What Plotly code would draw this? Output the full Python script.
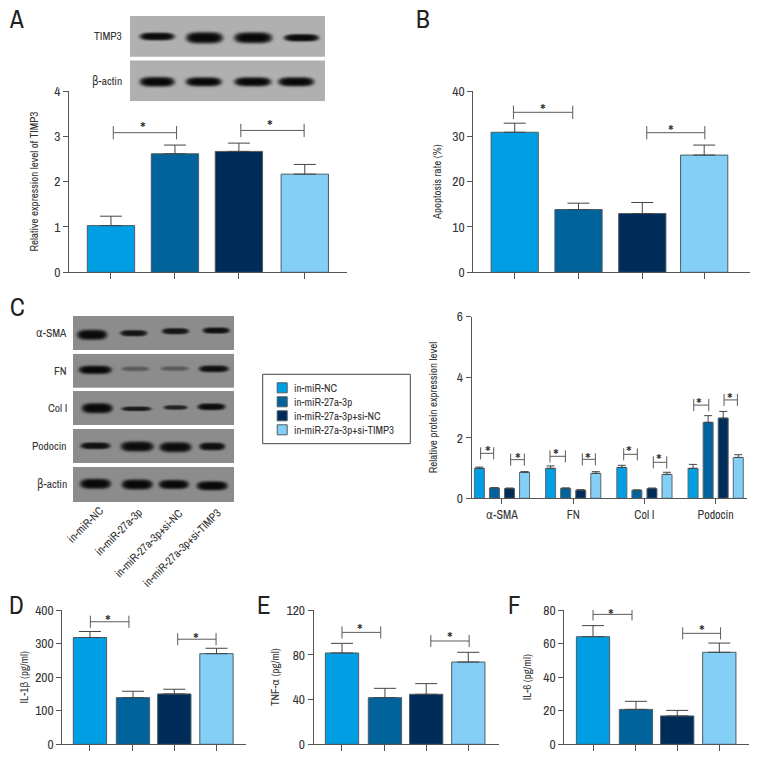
import numpy as np
import plotly.graph_objects as go

FONT = "Archivo Narrow, Liberation Sans Narrow, DejaVu Sans Condensed, Roboto, sans-serif"
W = H = 768
INK = "#333333"
AX = "#555555"
EDGE = "#4f5b63"

groups = ["in-miR-NC", "in-miR-27a-3p", "in-miR-27a-3p+si-NC", "in-miR-27a-3p+si-TIMP3"]
colors = ["#009fe3", "#00639c", "#002c5a", "#83cff5"]

# Panel A
a_val = [1.03, 2.615, 2.667, 2.166]
a_top = [1.238, 2.807, 2.85, 2.38]
# Panel B
b_val = [30.9, 13.85, 12.96, 25.86]
b_top = [32.9, 15.25, 15.4, 28.07]
# Panel D
d_val = [318, 139, 150, 270]
d_top = [336, 158, 164, 286]
# Panel E
e_val = [81.6, 41.7, 44.7, 73.5]
e_top = [90.2, 50.0, 54.2, 82.2]
# Panel F
f_val = [64.1, 20.8, 16.9, 54.8]
f_top = [70.7, 25.6, 20.2, 60.3]
# Panel C
c_cats = ["α-SMA", "FN", "Col I", "Podocin"]
c_val = [[0.99, 0.99, 1.02, 0.99], [0.34, 0.33, 0.265, 2.51], [0.32, 0.265, 0.32, 2.65], [0.86, 0.825, 0.79, 1.35]]
c_top = [[1.03, 1.07, 1.09, 1.12], [0.35, 0.34, 0.275, 2.73], [0.34, 0.285, 0.34, 2.87], [0.88, 0.88, 0.86, 1.44]]

# Blot bands: centre x, half width, centre y, half height, darkness
blot_a = [
    ("TIMP3", 16, 56.7, [156.7, 204, 252.7, 301], [17.5, 18.5, 19, 17.5], [36, 37.3, 37.3, 37.3], [4, 5.8, 5.6, 3.8], [10, 8, 8, 10]),
    ("β-actin", 60.3, 101.3, [156.7, 203.3, 252.3, 295.7], [17.5, 18, 18.5, 18], [81.3, 81.3, 81.3, 81.3], [5, 4.7, 4.7, 4.7], [8, 8, 8, 8]),
]
blot_c = [
    ("α-SMA", 316, 350, [91.7, 133.3, 175, 215.7], [15, 13.5, 13.5, 13.5], [334.3, 332.7, 330.7, 330], [5.2, 3.2, 3.2, 3.2], [10, 20, 20, 15]),
    ("FN", 353.7, 388, [94.7, 135, 174.3, 213.3], [16.5, 14, 14, 15], [369.3, 368.3, 368, 368.3], [4.3, 2.4, 2.4, 3.5], [8, 90, 90, 15]),
    ("Col I", 391, 425.3, [96.7, 136, 175, 211], [15.5, 15, 12, 14], [407.7, 408.3, 407, 406.3], [5.2, 2.4, 2.4, 3.5], [8, 25, 35, 12]),
    ("Podocin", 429, 463.3, [95, 136.7, 175, 211.7], [15, 16.5, 16, 13], [445.3, 446, 446.7, 446], [3.5, 5.2, 5.2, 4], [15, 12, 12, 15]),
    ("β-actin", 467, 502, [95, 136.7, 173.3, 211.7], [15.5, 15.5, 15, 15.5], [483.3, 484, 484, 485.3], [5.2, 5.2, 4.7, 4.7], [8, 8, 8, 8]),
]

# Panel geometry: left, right, top, bottom (px), x range, y max, positions, bar width, y dtick
panels = {
    "A": dict(box=(69, 347, 91, 272.3), xr=(-0.656, 3.69), ymax=4, dt=1, pos=[0, 1, 2, 3.03], w=0.74, val=a_val, top=a_top,
              title="Relative expression level of TIMP3", sd=13, cap=11,
              br=[(0.036, 1.026, 3.08, 0.147), (2.03, 3.02, 3.13, 0.147)], st=[(0.495, 3.29), (2.49, 3.33)]),
    "B": dict(box=(473.3, 750, 91, 272.3), xr=(-0.649, 3.688), ymax=40, dt=10, pos=[0, 1, 2, 2.97], w=0.74, val=b_val, top=b_top,
              title="Apoptosis rate (%)", sd=8, cap=11,
              br=[(-0.02, 0.91, 35.3, 1.47), (2.07, 2.98, 30.8, 1.47)], st=[(0.44, 36.8), (2.45, 32.2)]),
    "D": dict(box=(62.3, 246, 610, 744.3), xr=(-0.656, 3.70), ymax=400, dt=100, pos=[0, 1.02, 2, 3], w=0.79, val=d_val, top=d_top,
              title="IL-1β (pg/ml)", sd=4, cap=11,
              br=[(0.01, 0.924, 365, 18), (2.08, 2.99, 313, 18)], st=[(0.42, 380), (2.52, 327)]),
    "E": dict(box=(313.7, 499.3, 610, 744.3), xr=(-0.672, 3.736), ymax=120, dt=40, pos=[0, 1.02, 2, 3], w=0.79, val=e_val, top=e_top,
              title="TNF-α (pg/ml)", sd=4, cap=11,
              br=[(0, 0.92, 100, 5.4), (2.11, 3.02, 92.3, 5.4)], st=[(0.43, 106.5), (2.57, 99)]),
    "F": dict(box=(564.3, 749, 610, 744.3), xr=(-0.682, 3.705), ymax=80, dt=20, pos=[0, 1.02, 2, 3], w=0.79, val=f_val, top=f_top,
              title="IL-6 (pg/ml)", sd=9, cap=11,
              br=[(0, 0.926, 77.4, 3.6), (2.13, 3.03, 66.1, 3.6)], st=[(0.43, 79.8), (2.58, 70)]),
}
c_box = (471.7, 747, 316.7, 498.3)
c_xr = (-0.425, 3.44)
c_br = [(-0.30, -0.117, 1.486, 0.2), (0.122, 0.314, 1.277, 0.2), (0.674, 0.89, 1.387, 0.2), (1.128, 1.311, 1.288, 0.2),
        (1.709, 1.90, 1.453, 0.2), (2.125, 2.313, 1.189, 0.2), (2.692, 2.903, 3.08, 0.2), (3.118, 3.305, 3.25, 0.2)]
c_st = [(-0.20, 1.67), (0.224, 1.46), (0.758, 1.59), (1.213, 1.46), (1.79, 1.67), (2.21, 1.40), (2.772, 3.28), (3.207, 3.42)]

letters = [("A", 16.7, 19), ("B", 423, 19), ("C", 17, 307), ("D", 16.7, 605), ("E", 264, 605), ("F", 514, 605)]
rot_labels = [(85, 525), (118.3, 531.7), (148.7, 542.7), (182, 548.3)]

fig = go.Figure()
layout = {}
shapes = []
annots = []
n = [0]


def new_axes(box, xkw, ykw):
    n[0] += 1
    i = n[0]
    s = "" if i == 1 else str(i)
    l, r, t, b = box
    layout["xaxis" + s] = dict(domain=[l / W, r / W], anchor="y" + s, automargin=False, **xkw)
    layout["yaxis" + s] = dict(domain=[1 - b / H, 1 - t / H], anchor="x" + s, automargin=False, **ykw)
    return "x" + s, "y" + s


def ax_common():
    return dict(showgrid=False, zeroline=False, showline=True, linecolor=AX, linewidth=1,
                ticks="outside", tickcolor=AX, tickwidth=1, fixedrange=True)


def yaxis_kw(ymax, dt, title, sd):
    return dict(range=[0, ymax], dtick=dt, tick0=0, ticklen=5, tickfont=dict(family=FONT, size=13.5, color=INK),
                title=dict(text=title, font=dict(family=FONT, size=11, color=INK), standoff=sd), **ax_common())


def bracket(xa, ya, x0, x1, y, d):
    for (a, c, e, f) in [(x0, y, x1, y), (x0, y - d, x0, y + d), (x1, y - d, x1, y + d)]:
        shapes.append(dict(type="line", xref=xa, yref=ya, x0=a, y0=c, x1=e, y1=f,
                           line=dict(color="#5a5a5a", width=1)))


def star(xa, ya, x, y):
    annots.append(dict(xref=xa, yref=ya, x=x, y=y, yshift=-5, text="*", showarrow=False, yanchor="middle",
                       font=dict(family=FONT, size=18, color=INK)))


for key, p in panels.items():
    xa, ya = new_axes(p["box"], dict(range=list(p["xr"]), tickvals=p["pos"], showticklabels=False, ticklen=6, **ax_common()),
                      yaxis_kw(p["ymax"], p["dt"], p["title"], p["sd"]))
    up = [t - v for t, v in zip(p["top"], p["val"])]
    fig.add_trace(go.Bar(x=p["pos"], y=p["val"], width=p["w"], xaxis=xa, yaxis=ya, showlegend=False,
                         marker=dict(color=colors, line=dict(color=EDGE, width=1)),
                         error_y=dict(type="data", symmetric=False, array=up, arrayminus=[0] * 4,
                                      color="#444444", thickness=1, width=p["cap"])))
    for b in p["br"]:
        bracket(xa, ya, *b)
    for s in p["st"]:
        star(xa, ya, *s)

# Panel C chart
xa, ya = new_axes(c_box, dict(range=list(c_xr), tickvals=[0, 1, 2, 3], ticktext=c_cats, ticklen=5,
                              tickfont=dict(family=FONT, size=12, color=INK), **ax_common()),
                  yaxis_kw(6, 2, "Relative protein expression level", 16))
for g, name in enumerate(groups):
    up = [t - v for t, v in zip(c_top[g], c_val[g])]
    fig.add_trace(go.Bar(x=[0, 1, 2, 3], y=c_val[g], name=name, xaxis=xa, yaxis=ya, showlegend=False,
                         marker=dict(color=colors[g], line=dict(color="#5a666e", width=1)),
                         error_y=dict(type="data", symmetric=False, array=up, arrayminus=[0] * 4,
                                      color="#444444", thickness=1, width=4)))
for b in c_br:
    bracket(xa, ya, *b)
for s in c_st:
    star(xa, ya, *s)


def blot(x0, x1, y0, y1, cxs, hws, cys, hhs, darks, bg):
    xs = np.arange(x0, x1 + 0.5, 1.0)
    ys = np.arange(y0, y1 + 0.5, 1.0)
    X, Y = np.meshgrid(xs, ys)
    Z = np.full(X.shape, float(bg))
    for cx, hw, cy, hh, dk in zip(cxs, hws, cys, hhs, darks):
        r = (np.abs(X - cx) / hw) ** 4 + ((Y - cy) / hh) ** 2
        v = np.exp(-r ** 2)
        Z = Z - (Z - dk) * v
    xa, ya = new_axes((x0, x1, y0, y1), dict(range=[x0, x1], visible=False, fixedrange=True),
                      dict(range=[y1, y0], visible=False, fixedrange=True))
    fig.add_trace(go.Heatmap(x=xs, y=ys, z=Z, xaxis=xa, yaxis=ya, zmin=0, zmax=255, showscale=False, zsmooth="best",
                             colorscale=[[0, "#000000"], [1, "#ffffff"]], hoverinfo="skip"))


for (name, y0, y1, cx, hw, cy, hh, dk) in blot_a:
    blot(130, 325, y0, y1, cx, hw, cy, hh, dk, 176)
    annots.append(dict(xref="paper", yref="paper", x=124 / W, y=1 - (y0 + y1) / 2 / H, text=name, showarrow=False,
                       xanchor="right", yanchor="middle", font=dict(family=FONT, size=11.5, color=INK)))
for (name, y0, y1, cx, hw, cy, hh, dk) in blot_c:
    blot(73, 234.3, y0, y1, cx, hw, cy, hh, dk, 140)
    annots.append(dict(xref="paper", yref="paper", x=69 / W, y=1 - (y0 + y1 - 0.5) / 2 / H, text=name, showarrow=False,
                       xanchor="right", yanchor="middle", font=dict(family=FONT, size=11.5, color=INK)))

for name, (cx, cy) in zip(groups, rot_labels):
    annots.append(dict(xref="paper", yref="paper", x=cx / W, y=1 - cy / H, text=name, showarrow=False, textangle=-45,
                       xanchor="center", yanchor="middle", font=dict(family=FONT, size=11.5, color=INK)))

# Legend box
lx, ly = new_axes((262.7, 410.3, 374.3, 443.7), dict(range=[0, 147.6], visible=False, fixedrange=True),
                  dict(range=[69.4, 0], visible=False, fixedrange=True))
shapes.append(dict(type="rect", xref="paper", yref="paper", x0=262.7 / W, x1=410.3 / W, y0=1 - 374.3 / H, y1=1 - 443.7 / H,
                   line=dict(color="#444444", width=1)))
leg_y = [13.5, 27.5, 41.5, 55.5]
fig.add_trace(go.Scatter(x=[19.5] * 4, y=leg_y, xaxis=lx, yaxis=ly, mode="markers", showlegend=False,
                         marker=dict(symbol="square", size=10, color=colors, line=dict(color=EDGE, width=1))))
for name, yy in zip(groups, leg_y):
    annots.append(dict(xref=lx, yref=ly, x=29, y=yy, text=name, showarrow=False, xanchor="left", yanchor="middle",
                       font=dict(family=FONT, size=11, color=INK)))

for t, x, y in letters:
    annots.append(dict(xref="paper", yref="paper", x=x / W, y=1 - y / H, text=t, showarrow=False, xanchor="center",
                       yanchor="middle", font=dict(family=FONT, size=25, color="#222222")))

fig.update_layout(width=W, height=H, margin=dict(l=0, r=0, t=0, b=0, pad=0), paper_bgcolor="white", plot_bgcolor="white",
                  barmode="group", bargap=0.154, bargroupgap=0.336, shapes=shapes, annotations=annots,
                  font=dict(family=FONT), showlegend=False, **layout)
fig.write_html("out.html", post_script="document.body.style.margin='0';", config={"displayModeBar": False})
